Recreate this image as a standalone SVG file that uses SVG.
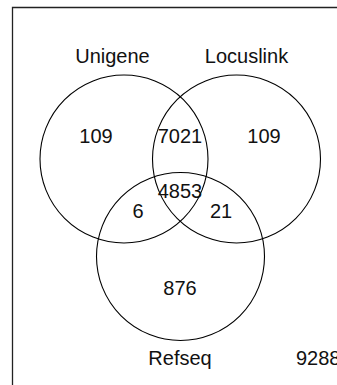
<svg xmlns="http://www.w3.org/2000/svg" width="337" height="385" viewBox="0 0 337 385">
<style>
.c{fill:none;stroke:#000;stroke-width:1.1}
text{font-family:"Liberation Sans",Arial,sans-serif;font-size:20px;fill:#111;text-anchor:middle}
</style>
<rect width="337" height="385" fill="#fff"/>
<path d="M12.5 400 V7.5 H360" fill="none" stroke="#222" stroke-width="1.3"/>
<g id="unigene"><circle class="c" cx="124" cy="159" r="84"/><text x="112.5" y="63">Unigene</text></g>
<g id="locuslink"><circle class="c" cx="236.5" cy="159" r="84"/><text x="246.5" y="63">Locuslink</text></g>
<g id="refseq"><circle class="c" cx="180.5" cy="256.5" r="84"/><text x="180" y="365">Refseq</text></g>
<g id="counts">
<text x="96" y="143">109</text>
<text x="180" y="143">7021</text>
<text x="264" y="143">109</text>
<text x="180" y="198">4853</text>
<text x="138" y="218">6</text>
<text x="221" y="218">21</text>
<text x="180" y="295">876</text>
<text x="296" y="365" style="text-anchor:start">9288</text>
</g>
</svg>
